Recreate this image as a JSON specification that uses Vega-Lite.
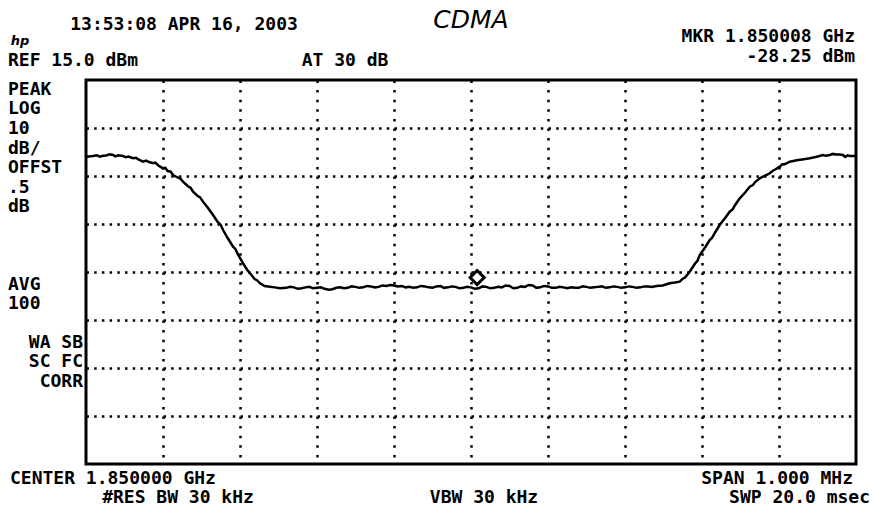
{
  "$schema": "https://vega.github.io/schema/vega-lite/v6.json",
  "width": 770,
  "height": 384,
  "autosize": {"type": "none"},
  "padding": {"left": 86, "top": 80, "right": 17, "bottom": 54},
  "background": "white",
  "config": {
    "view": {"stroke": "black", "strokeWidth": 3},
    "text": {"font": "DejaVu Sans Mono", "fontWeight": "bold", "fontSize": 18, "color": "black", "baseline": "middle"}
  },
  "layer": [
    {
      "data": {"values": [
        {"f":1849.501,"dbm":-0.98},{"f":1849.509,"dbm":-0.83},{"f":1849.514,"dbm":-0.7},{"f":1849.518,"dbm":-0.98},{"f":1849.522,"dbm":-0.8},{"f":1849.526,"dbm":-0.73},{"f":1849.531,"dbm":-0.5},{"f":1849.535,"dbm":-0.63},{"f":1849.538,"dbm":-0.9},{"f":1849.542,"dbm":-0.7},{"f":1849.548,"dbm":-0.83},{"f":1849.552,"dbm":-1.1},{"f":1849.555,"dbm":-0.95},{"f":1849.561,"dbm":-1.31},{"f":1849.565,"dbm":-1.2},{"f":1849.568,"dbm":-1.56},{"f":1849.574,"dbm":-2.02},{"f":1849.578,"dbm":-1.8},{"f":1849.581,"dbm":-2.04},{"f":1849.587,"dbm":-2.35},{"f":1849.59,"dbm":-2.2},{"f":1849.594,"dbm":-2.81},{"f":1849.6,"dbm":-3.4},{"f":1849.603,"dbm":-3.3},{"f":1849.606,"dbm":-3.96},{"f":1849.61,"dbm":-4.1},{"f":1849.613,"dbm":-4.79},{"f":1849.619,"dbm":-5.31},{"f":1849.623,"dbm":-5.6},{"f":1849.626,"dbm":-6.19},{"f":1849.632,"dbm":-7.08},{"f":1849.636,"dbm":-7.5},{"f":1849.639,"dbm":-8.27},{"f":1849.645,"dbm":-9.17},{"f":1849.648,"dbm":-9.4},{"f":1849.652,"dbm":-10.35},{"f":1849.658,"dbm":-11.56},{"f":1849.665,"dbm":-13.13},{"f":1849.671,"dbm":-14.58},{"f":1849.675,"dbm":-15.2},{"f":1849.678,"dbm":-16.25},{"f":1849.684,"dbm":-17.92},{"f":1849.691,"dbm":-19.73},{"f":1849.694,"dbm":-20.2},{"f":1849.697,"dbm":-21.25},{"f":1849.704,"dbm":-23.19},{"f":1849.709,"dbm":-24.48},{"f":1849.713,"dbm":-25.27},{"f":1849.719,"dbm":-26.46},{"f":1849.722,"dbm":-26.7},{"f":1849.726,"dbm":-27.35},{"f":1849.732,"dbm":-27.92},{"f":1849.739,"dbm":-28.06},{"f":1849.745,"dbm":-28.2},{"f":1849.752,"dbm":-28.4},
        {"f":1849.76,"dbm":-28.3},{"f":1849.765,"dbm":-28.1},{"f":1849.77,"dbm":-28.2},{"f":1849.775,"dbm":-28.5},{"f":1849.78,"dbm":-28.4},{"f":1849.785,"dbm":-28.2},{"f":1849.79,"dbm":-28.1},{"f":1849.795,"dbm":-28.4},{"f":1849.8,"dbm":-28.3},{"f":1849.805,"dbm":-28.2},{"f":1849.81,"dbm":-28.5},{"f":1849.815,"dbm":-28.7},{"f":1849.82,"dbm":-28.6},{"f":1849.825,"dbm":-28.3},{"f":1849.83,"dbm":-28.2},{"f":1849.835,"dbm":-28.4},{"f":1849.84,"dbm":-28.3},{"f":1849.845,"dbm":-28.0},{"f":1849.85,"dbm":-28.1},{"f":1849.855,"dbm":-28.3},{"f":1849.86,"dbm":-28.2},{"f":1849.865,"dbm":-27.9},{"f":1849.87,"dbm":-28.0},{"f":1849.875,"dbm":-28.2},{"f":1849.88,"dbm":-28.1},{"f":1849.885,"dbm":-27.8},{"f":1849.89,"dbm":-27.9},{"f":1849.895,"dbm":-27.7},{"f":1849.9,"dbm":-27.8},{"f":1849.905,"dbm":-28.0},{"f":1849.91,"dbm":-27.9},{"f":1849.915,"dbm":-28.2},{"f":1849.92,"dbm":-28.1},{"f":1849.925,"dbm":-28.3},{"f":1849.93,"dbm":-28.2},{"f":1849.935,"dbm":-27.9},{"f":1849.94,"dbm":-28.0},{"f":1849.945,"dbm":-28.2},{"f":1849.95,"dbm":-28.3},{"f":1849.955,"dbm":-28.0},{"f":1849.96,"dbm":-27.9},{"f":1849.965,"dbm":-28.3},{"f":1849.97,"dbm":-28.2},{"f":1849.975,"dbm":-28.0},{"f":1849.98,"dbm":-28.1},{"f":1849.985,"dbm":-28.4},{"f":1849.99,"dbm":-28.3},{"f":1849.995,"dbm":-28.1},{"f":1850.0,"dbm":-28.2},{"f":1850.005,"dbm":-28.5},{"f":1850.01,"dbm":-28.4},{"f":1850.015,"dbm":-28.0},{"f":1850.02,"dbm":-28.1},{"f":1850.025,"dbm":-28.4},{"f":1850.03,"dbm":-28.3},{"f":1850.035,"dbm":-28.1},{"f":1850.04,"dbm":-28.2},{"f":1850.045,"dbm":-27.8},{"f":1850.05,"dbm":-27.9},{"f":1850.055,"dbm":-28.4},{"f":1850.06,"dbm":-28.3},{"f":1850.065,"dbm":-28.0},{"f":1850.07,"dbm":-28.1},{"f":1850.075,"dbm":-27.7},{"f":1850.08,"dbm":-27.8},{"f":1850.085,"dbm":-28.3},{"f":1850.09,"dbm":-28.2},{"f":1850.095,"dbm":-27.9},{"f":1850.1,"dbm":-28.0},{"f":1850.105,"dbm":-28.3},{"f":1850.11,"dbm":-28.3},{"f":1850.115,"dbm":-28.1},{"f":1850.12,"dbm":-28.2},{"f":1850.125,"dbm":-28.4},{"f":1850.13,"dbm":-28.2},{"f":1850.135,"dbm":-28.3},{"f":1850.14,"dbm":-28.3},{"f":1850.145,"dbm":-28.0},{"f":1850.15,"dbm":-28.1},{"f":1850.155,"dbm":-28.3},{"f":1850.16,"dbm":-28.2},{"f":1850.165,"dbm":-28.1},{"f":1850.17,"dbm":-28.0},{"f":1850.175,"dbm":-28.3},{"f":1850.18,"dbm":-28.2},{"f":1850.185,"dbm":-28.0},{"f":1850.19,"dbm":-28.1},{"f":1850.195,"dbm":-28.3},{"f":1850.2,"dbm":-28.2},{"f":1850.205,"dbm":-28.0},{"f":1850.21,"dbm":-28.1},{"f":1850.215,"dbm":-28.3},{"f":1850.22,"dbm":-28.2},{"f":1850.225,"dbm":-28.0},{"f":1850.23,"dbm":-28.0},
        {"f":1850.235,"dbm":-28.1},{"f":1850.241,"dbm":-27.92},{"f":1850.249,"dbm":-27.81},{"f":1850.258,"dbm":-27.35},{"f":1850.265,"dbm":-27.19},{"f":1850.271,"dbm":-27.02},{"f":1850.275,"dbm":-26.4},{"f":1850.278,"dbm":-26.15},{"f":1850.284,"dbm":-24.94},{"f":1850.291,"dbm":-23.23},{"f":1850.294,"dbm":-22.7},{"f":1850.297,"dbm":-21.46},{"f":1850.304,"dbm":-19.9},{"f":1850.31,"dbm":-18.33},{"f":1850.313,"dbm":-17.9},{"f":1850.317,"dbm":-16.77},{"f":1850.323,"dbm":-15.21},{"f":1850.33,"dbm":-13.75},{"f":1850.336,"dbm":-12.44},{"f":1850.34,"dbm":-11.9},{"f":1850.343,"dbm":-11.04},{"f":1850.349,"dbm":-9.65},{"f":1850.356,"dbm":-8.44},{"f":1850.362,"dbm":-7.23},{"f":1850.366,"dbm":-6.9},{"f":1850.369,"dbm":-6.25},{"f":1850.375,"dbm":-5.48},{"f":1850.382,"dbm":-4.9},{"f":1850.388,"dbm":-4.44},{"f":1850.392,"dbm":-3.9},{"f":1850.395,"dbm":-3.65},{"f":1850.401,"dbm":-3.06},{"f":1850.404,"dbm":-2.6},{"f":1850.408,"dbm":-2.5},{"f":1850.414,"dbm":-2.02},{"f":1850.423,"dbm":-1.73},{"f":1850.432,"dbm":-1.52},{"f":1850.44,"dbm":-1.31},{"f":1850.446,"dbm":-1.1},{"f":1850.449,"dbm":-0.98},{"f":1850.457,"dbm":-0.63},{"f":1850.461,"dbm":-0.8},{"f":1850.466,"dbm":-0.63},{"f":1850.47,"dbm":-0.4},{"f":1850.474,"dbm":-0.54},{"f":1850.479,"dbm":-0.5},{"f":1850.483,"dbm":-0.63},{"f":1850.486,"dbm":-1.04},{"f":1850.489,"dbm":-0.7},{"f":1850.492,"dbm":-0.83},{"f":1850.499,"dbm":-0.83}
      ]},
      "mark": {"type": "line", "color": "black", "strokeWidth": 2.5},
      "encoding": {
        "x": {"field": "f", "type": "quantitative",
          "scale": {"domain": [1849.5, 1850.5], "nice": false, "zero": false},
          "axis": {"values": [1849.6, 1849.7, 1849.8, 1849.9, 1850.0, 1850.1, 1850.2, 1850.3, 1850.4],
            "grid": true, "gridColor": "black", "gridWidth": 2.5, "gridDash": [2.5, 7.1], "gridOpacity": 1,
            "labels": false, "ticks": false, "domain": false, "title": null}},
        "y": {"field": "dbm", "type": "quantitative",
          "scale": {"domain": [-65, 15], "nice": false, "zero": false},
          "axis": {"values": [-55, -45, -35, -25, -15, -5, 5],
            "grid": true, "gridColor": "black", "gridWidth": 2.5, "gridDash": [2.5, 5.2], "gridOpacity": 1,
            "labels": false, "ticks": false, "domain": false, "title": null}}
      }
    },
    {
      "data": {"values": [{"f": 1850.008, "dbm": -28.25}]},
      "mark": {"type": "point", "shape": "diamond", "filled": false, "stroke": "black", "strokeWidth": 3, "size": 200, "opacity": 1, "yOffset": -10},
      "encoding": {
        "x": {"field": "f", "type": "quantitative"},
        "y": {"field": "dbm", "type": "quantitative"}
      }
    },
    {
      "data": {"values": [{}]},
      "mark": {"type": "text", "align": "center"},
      "encoding": {"x": {"datum": 1849.6273, "type": "quantitative"}, "y": {"datum": 26.458, "type": "quantitative"}, "text": {"value": "13:53:08 APR 16, 2003"}}
    },
    {
      "data": {"values": [{}]},
      "mark": {"type": "text", "align": "center", "font": "DejaVu Sans", "fontStyle": "italic", "fontWeight": "bold", "fontSize": 13},
      "encoding": {"x": {"datum": 1849.4143, "type": "quantitative"}, "y": {"datum": 23.125, "type": "quantitative"}, "text": {"value": "hp"}}
    },
    {
      "data": {"values": [{}]},
      "mark": {"type": "text", "align": "center", "font": "DejaVu Sans", "fontStyle": "italic", "fontWeight": "normal", "fontSize": 25},
      "encoding": {"x": {"datum": 1850.0, "type": "quantitative"}, "y": {"datum": 27.396, "type": "quantitative"}, "text": {"value": "CDMA"}}
    },
    {
      "data": {"values": [{}]},
      "mark": {"type": "text", "align": "left"},
      "encoding": {"x": {"datum": 1849.3987, "type": "quantitative"}, "y": {"datum": 18.958, "type": "quantitative"}, "text": {"value": "REF 15.0 dBm"}}
    },
    {
      "data": {"values": [{}]},
      "mark": {"type": "text", "align": "center"},
      "encoding": {"x": {"datum": 1849.8364, "type": "quantitative"}, "y": {"datum": 18.958, "type": "quantitative"}, "text": {"value": "AT 30 dB"}}
    },
    {
      "data": {"values": [{}]},
      "mark": {"type": "text", "align": "right"},
      "encoding": {"x": {"datum": 1850.4987, "type": "quantitative"}, "y": {"datum": 23.958, "type": "quantitative"}, "text": {"value": "MKR 1.850008 GHz"}}
    },
    {
      "data": {"values": [{}]},
      "mark": {"type": "text", "align": "right"},
      "encoding": {"x": {"datum": 1850.4987, "type": "quantitative"}, "y": {"datum": 19.792, "type": "quantitative"}, "text": {"value": "-28.25 dBm"}}
    },
    {
      "data": {"values": [{}]},
      "mark": {"type": "text", "align": "left", "baseline": "top", "lineHeight": 19.6},
      "encoding": {"x": {"datum": 1849.3987, "type": "quantitative"}, "y": {"datum": 14.82, "type": "quantitative"}, "text": {"value": ["PEAK", "LOG", "10", "dB/", "OFFST", ".5", "dB"]}}
    },
    {
      "data": {"values": [{}]},
      "mark": {"type": "text", "align": "left", "baseline": "top", "lineHeight": 19.6},
      "encoding": {"x": {"datum": 1849.3987, "type": "quantitative"}, "y": {"datum": -25.8, "type": "quantitative"}, "text": {"value": ["AVG", "100"]}}
    },
    {
      "data": {"values": [{}]},
      "mark": {"type": "text", "align": "right", "baseline": "top", "lineHeight": 19.5},
      "encoding": {"x": {"datum": 1849.4961, "type": "quantitative"}, "y": {"datum": -37.885, "type": "quantitative"}, "text": {"value": ["WA SB", "SC FC", "CORR"]}}
    },
    {
      "data": {"values": [{}]},
      "mark": {"type": "text", "align": "left"},
      "encoding": {"x": {"datum": 1849.4013, "type": "quantitative"}, "y": {"datum": -68.125, "type": "quantitative"}, "text": {"value": "CENTER 1.850000 GHz"}}
    },
    {
      "data": {"values": [{}]},
      "mark": {"type": "text", "align": "center"},
      "encoding": {"x": {"datum": 1849.6195, "type": "quantitative"}, "y": {"datum": -72.083, "type": "quantitative"}, "text": {"value": "#RES BW 30 kHz"}}
    },
    {
      "data": {"values": [{}]},
      "mark": {"type": "text", "align": "center"},
      "encoding": {"x": {"datum": 1850.0169, "type": "quantitative"}, "y": {"datum": -72.083, "type": "quantitative"}, "text": {"value": "VBW 30 kHz"}}
    },
    {
      "data": {"values": [{}]},
      "mark": {"type": "text", "align": "right"},
      "encoding": {"x": {"datum": 1850.4961, "type": "quantitative"}, "y": {"datum": -68.125, "type": "quantitative"}, "text": {"value": "SPAN 1.000 MHz"}}
    },
    {
      "data": {"values": [{}]},
      "mark": {"type": "text", "align": "right"},
      "encoding": {"x": {"datum": 1850.5182, "type": "quantitative"}, "y": {"datum": -72.083, "type": "quantitative"}, "text": {"value": "SWP 20.0 msec"}}
    }
  ]
}
